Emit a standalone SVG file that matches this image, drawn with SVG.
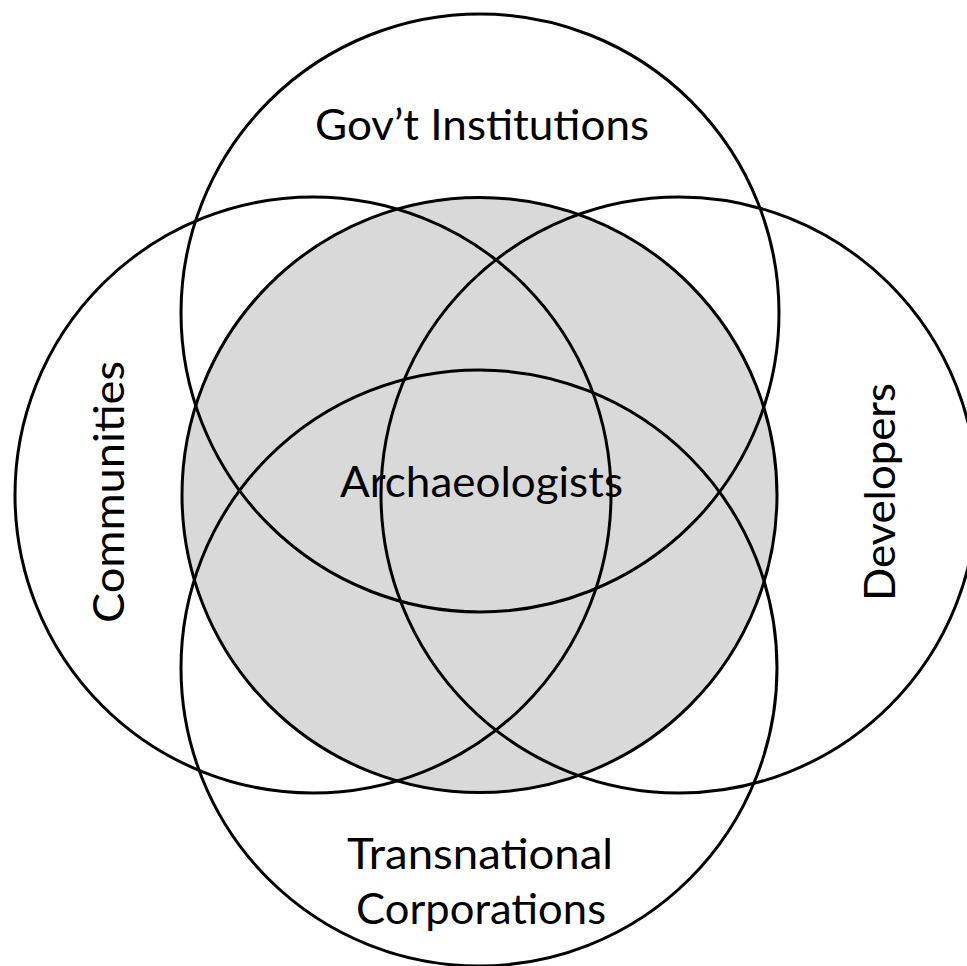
<svg xmlns="http://www.w3.org/2000/svg" width="967" height="966" viewBox="0 0 967 966">
  <style>
    .ring { fill: none; stroke: #000; stroke-width: 3; }
    .core { fill: #d9d9d9; stroke: #000; stroke-width: 3; }
    .label { font-family: Lato, "Open Sans", "Liberation Sans", sans-serif; font-size: 42px; fill: #000; text-anchor: middle; }
  </style>
  <rect width="967" height="966" fill="#fff"/>

  <!-- shaded central set, drawn first so the other outlines sit on top -->
  <g id="archaeologists">
    <circle class="core" cx="479.5" cy="495" r="297.5"/>
  </g>

  <g id="govt-institutions">
    <circle class="ring" cx="480" cy="313" r="299"/>
    <text class="label" x="482" y="140" textLength="334" lengthAdjust="spacingAndGlyphs">Gov’t Institutions</text>
  </g>

  <g id="communities">
    <circle class="ring" cx="313" cy="495" r="298"/>
    <text class="label" transform="translate(124 492) rotate(-90)" x="0" y="0" textLength="262" lengthAdjust="spacingAndGlyphs">Communities</text>
  </g>

  <g id="developers">
    <circle class="ring" cx="679" cy="495" r="298"/>
    <text class="label" transform="translate(895 492) rotate(-90)" x="0" y="0" textLength="218" lengthAdjust="spacingAndGlyphs">Developers</text>
  </g>

  <g id="transnational-corporations">
    <circle class="ring" cx="479" cy="668" r="298"/>
    <text class="label" x="480" y="869" textLength="266" lengthAdjust="spacingAndGlyphs">Transnational</text>
    <text class="label" x="481" y="924" textLength="250" lengthAdjust="spacingAndGlyphs">Corporations</text>
  </g>

  <!-- central label sits above every outline -->
  <g id="archaeologists-label">
    <text class="label" x="481.5" y="497" textLength="283" lengthAdjust="spacingAndGlyphs">Archaeologists</text>
  </g>
</svg>
